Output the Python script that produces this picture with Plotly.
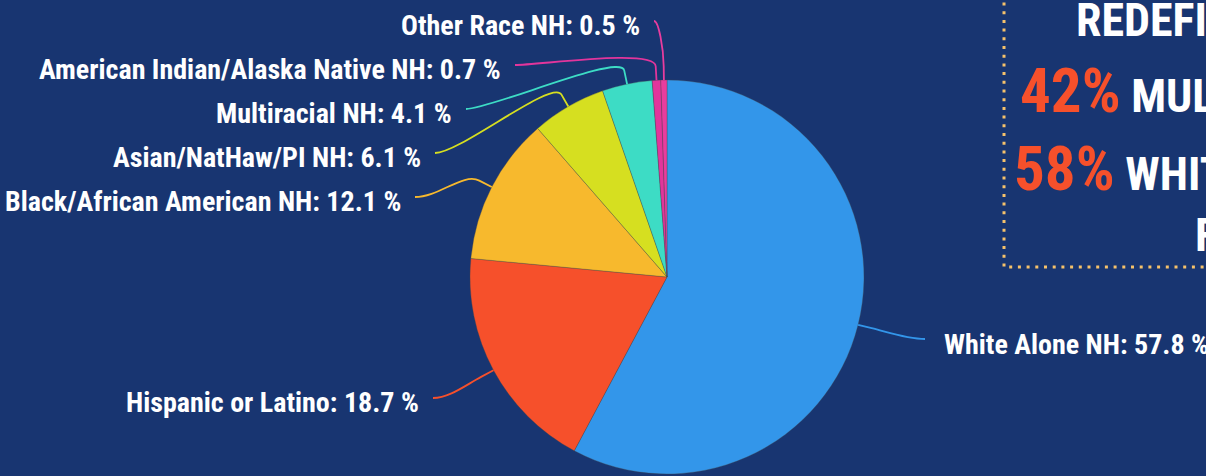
import math
import plotly.graph_objects as go

# ---------------- data ----------------
categories = [
    "White Alone NH",
    "Hispanic or Latino",
    "Black/African American NH",
    "Asian/NatHaw/PI NH",
    "Multiracial NH",
    "American Indian/Alaska Native NH",
    "Other Race NH",
]
values = [57.8, 18.7, 12.1, 6.1, 4.1, 0.7, 0.5]
colors = ["#3396ea", "#f6502b", "#f7b92d", "#d6df20", "#3ddcc5", "#e2359c", "#e83d9e"]

box_lines = ["REDEFINING", "MULTICULTURAL", "WHITE NON-HISPANIC", "FUTURE"]
box_numbers = ["42%", "58%"]

# ---------------- layout constants ----------------
W, H = 1206, 476
BG = "#183571"
CX, CY, R = 667, 277, 197          # pie centre / radius in pixels
FONT = "Roboto Condensed, Liberation Sans Narrow, Arial Narrow, DejaVu Sans Condensed, sans-serif"
LABEL_FS = 28
# far end of each connector (label side), in pixels
label_ends = [(925, 339), (433, 398), (415, 197), (435, 153), (466, 109), (515, 65), (654, 21)]

fig = go.Figure()

fig.add_trace(go.Pie(
    labels=categories,
    values=values,
    sort=False,
    direction="clockwise",
    rotation=0,
    textinfo="none",
    hoverinfo="label+percent",
    marker=dict(colors=colors, line=dict(color="rgba(70,70,70,0.55)", width=0.6)),
    domain=dict(x=[(CX - R) / W, (CX + R) / W], y=[1 - (CY + R) / H, 1 - (CY - R) / H]),
    showlegend=False,
))

# invisible pixel axes for overlays
fig.add_trace(go.Scatter(x=[0, W], y=[0, H], mode="markers", marker=dict(opacity=0),
                         hoverinfo="skip", showlegend=False))

shapes = []
annotations = []
total = sum(values)
cum = 0.0
for cat, v, col, (lx, ly) in zip(categories, values, colors, label_ends):
    mid = (cum + v / 2) / total * 360.0
    cum += v
    th = math.radians(mid)
    dx, dy = math.sin(th), -math.cos(th)
    ex, ey = CX + R * dx, CY + R * dy
    e1x, e1y = CX + (R + 14) * dx, CY + (R + 14) * dy
    e2x, e2y = CX + (R + 32) * dx, CY + (R + 32) * dy
    side = 1 if lx < CX else -1   # label on left -> control to the right of label end
    d = min(25, abs(e2x - lx) * 0.5)
    c2x, c2y = lx + side * d, ly
    path = f"M {ex:.1f},{ey:.1f} L {e1x:.1f},{e1y:.1f} C {e2x:.1f},{e2y:.1f} {c2x:.1f},{c2y:.1f} {lx:.1f},{ly:.1f}"
    shapes.append(dict(type="path", path=path, xref="x", yref="y",
                       line=dict(color=col, width=1.8)))
    pct = f"{v:.1f}"
    if lx < CX:
        annotations.append(dict(x=lx - 12, y=ly + 4, xref="x", yref="y", text=f"{cat}: {pct} %",
                                showarrow=False, xanchor="right", yanchor="middle",
                                font=dict(family=FONT, size=LABEL_FS, color="white", weight="bold")))
    else:
        annotations.append(dict(x=lx + 17, y=ly + 5, xref="x", yref="y", text=f"{cat}: {pct} %",
                                showarrow=False, xanchor="left", yanchor="middle",
                                font=dict(family=FONT, size=LABEL_FS, color="white", weight="bold")))

# dotted box at right
shapes.append(dict(type="rect", xref="x", yref="y", x0=1004, y0=-20, x1=1230, y1=267,
                   line=dict(color="#f5c26b", width=3, dash="3px,5.7px")))

ORANGE = "#f6502b"
annotations.append(dict(x=1074, y=20, xref="x", yref="y", text=box_lines[0], showarrow=False,
                        xanchor="left", yanchor="middle",
                        font=dict(family=FONT, size=46, color="white", weight="bold")))
annotations.append(dict(x=1018, y=91, xref="x", yref="y",
                        text=f"<span style='color:{ORANGE};font-size:61px'>{box_numbers[0]}</span> {box_lines[1]}",
                        showarrow=False, xanchor="left", yanchor="middle",
                        font=dict(family=FONT, size=46, color="white", weight="bold")))
annotations.append(dict(x=1012, y=169, xref="x", yref="y",
                        text=f"<span style='color:{ORANGE};font-size:61px'>{box_numbers[1]}</span> {box_lines[2]}",
                        showarrow=False, xanchor="left", yanchor="middle",
                        font=dict(family=FONT, size=46, color="white", weight="bold")))
annotations.append(dict(x=1193, y=235, xref="x", yref="y", text=box_lines[3], showarrow=False,
                        xanchor="left", yanchor="middle",
                        font=dict(family=FONT, size=46, color="white", weight="bold")))

fig.update_layout(
    width=W, height=H,
    margin=dict(l=0, r=0, t=0, b=0),
    paper_bgcolor=BG, plot_bgcolor="rgba(0,0,0,0)",
    xaxis=dict(range=[0, W], visible=False, domain=[0, 1], fixedrange=True),
    yaxis=dict(range=[H, 0], visible=False, domain=[0, 1], fixedrange=True),
    shapes=shapes,
    annotations=annotations,
    showlegend=False,
)

fig.write_html("out.html", config={"displayModeBar": False},
               post_script="document.body.style.margin='0';document.body.style.background='" + BG + "';")
